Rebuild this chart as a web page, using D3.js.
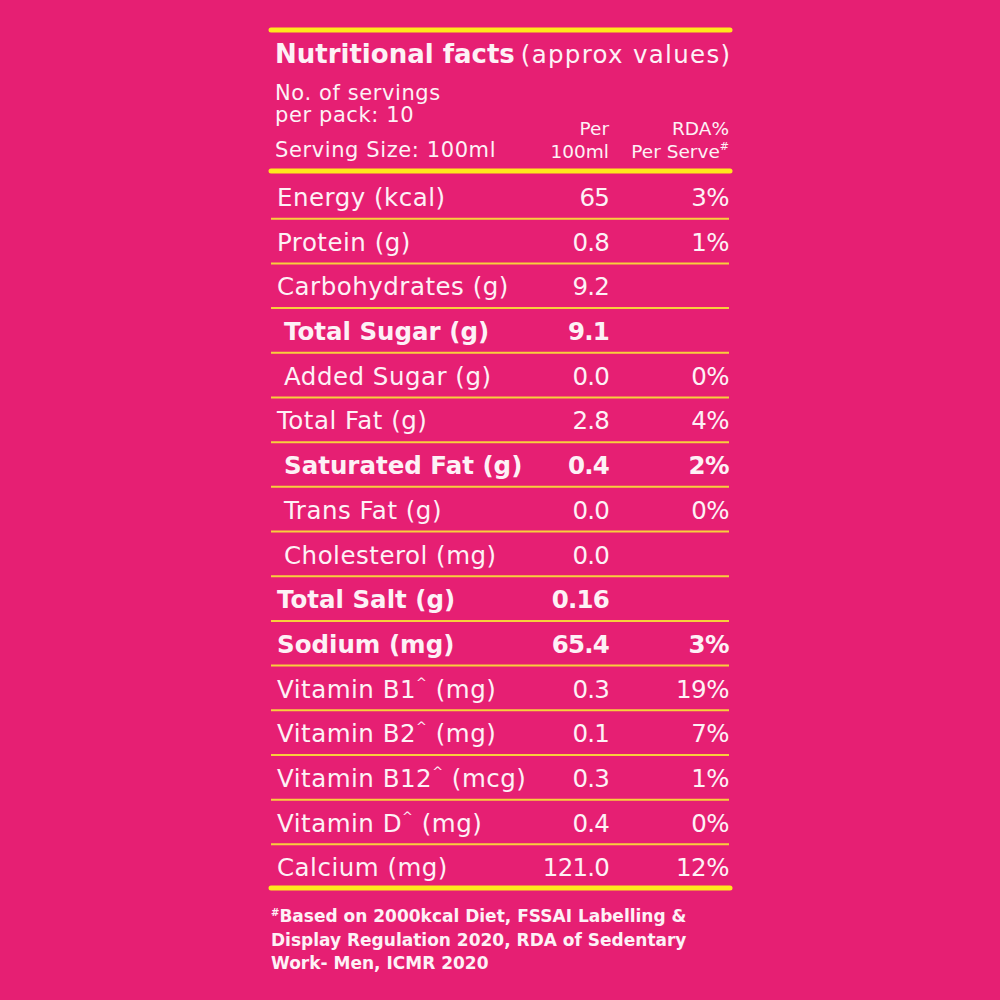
<!DOCTYPE html>
<html>
<head>
<meta charset="utf-8">
<script src="https://cdn.jsdelivr.net/npm/d3@7/dist/d3.min.js"></script>
<style>
  html, body { margin: 0; padding: 0; background: #e61f73; }
  svg { display: block; }
  text { fill: #fdf1f6; font-family: "DejaVu Sans", sans-serif; }
</style>
</head>
<body>
<div id="chart"></div>
<script>
// label data
const nutrients = [
  "Energy (kcal)", "Protein (g)", "Carbohydrates (g)", "Total Sugar (g)",
  "Added Sugar (g)", "Total Fat (g)", "Saturated Fat (g)", "Trans Fat (g)",
  "Cholesterol (mg)", "Total Salt (g)", "Sodium (mg)", "Vitamin B1^ (mg)",
  "Vitamin B2^ (mg)", "Vitamin B12^ (mcg)", "Vitamin D^ (mg)", "Calcium (mg)"
];
const per100ml = ["65", "0.8", "9.2", "9.1", "0.0", "2.8", "0.4", "0.0",
  "0.0", "0.16", "65.4", "0.3", "0.1", "0.3", "0.4", "121.0"];
const rdaPerServe = ["3%", "1%", "", "", "0%", "4%", "2%", "0%",
  "", "", "3%", "19%", "7%", "1%", "0%", "12%"];
const boldRows = ["Total Sugar (g)", "Saturated Fat (g)", "Total Salt (g)", "Sodium (mg)"];
const subRows = ["Total Sugar (g)", "Added Sugar (g)", "Saturated Fat (g)", "Trans Fat (g)", "Cholesterol (mg)"];

const titleMain = "Nutritional facts";
const titleSub = "(approx values)";
const servingLines = ["No. of servings", "per pack: 10", "Serving Size: 100ml"];
const colHead1 = ["Per", "100ml"];
const colHead2 = ["RDA%", "Per Serve"];
const footnote = [
  "Based on 2000kcal Diet, FSSAI Labelling &",
  "Display Regulation 2020, RDA of Sedentary",
  "Work- Men, ICMR 2020"
];

const W = 1000, H = 1000;
const left = 271, right = 729;
const yellow = "#ffe81c", thin = "#f8cf3c";

const svg = d3.select("#chart").append("svg")
  .attr("width", W).attr("height", H);

svg.append("rect").attr("width", W).attr("height", H).attr("fill", "#e61f73");

const y = d3.scaleBand().domain(nutrients).range([173, 888]);
const x = d3.scaleOrdinal()
  .domain(["label", "sub", "value", "rda"])
  .range([277, 284, 609, 729]);

// thick rules
[30, 171, 888].forEach(function(yy) {
  svg.append("line")
    .attr("x1", left).attr("x2", right + 1)
    .attr("y1", yy).attr("y2", yy)
    .attr("stroke", yellow).attr("stroke-width", 5)
    .attr("stroke-linecap", "round");
});

// thin rules between rows
svg.append("g").selectAll("line")
  .data(nutrients.slice(1))
  .enter().append("line")
  .attr("x1", left).attr("x2", right)
  .attr("y1", d => y(d) + 1).attr("y2", d => y(d) + 1)
  .attr("stroke", thin).attr("stroke-width", 2);

// title
const title = svg.append("text").attr("x", 275).attr("y", 63);
title.append("tspan").attr("font-weight", 700).attr("font-size", 26)
  .text(titleMain);
title.append("tspan").attr("font-size", 24.5).attr("dx", 6)
  .attr("letter-spacing", 1.3).text(titleSub);

// serving info
svg.append("g").selectAll("text")
  .data(servingLines)
  .enter().append("text")
  .attr("x", 275)
  .attr("y", (d, i) => [100, 122, 157][i])
  .attr("font-size", 21)
  .attr("letter-spacing", 0.6)
  .text(d => d);

// column heads
svg.append("g").selectAll("text")
  .data(colHead1)
  .enter().append("text")
  .attr("x", x("value")).attr("text-anchor", "end")
  .attr("y", (d, i) => 135 + i * 22.5)
  .attr("font-size", 18.5)
  .attr("letter-spacing", 0)
  .text(d => d);

const ch2 = svg.append("g").selectAll("text")
  .data(colHead2)
  .enter().append("text")
  .attr("x", x("rda")).attr("text-anchor", "end")
  .attr("y", (d, i) => 135 + i * 22.5)
  .attr("font-size", 18.5)
  .attr("letter-spacing", 0)
  .text(d => d);
ch2.filter((d, i) => i === 1).append("tspan")
  .attr("font-size", 11).attr("dy", -8).text("#");

// rows
const rows = svg.append("g").selectAll("g")
  .data(nutrients)
  .enter().append("g")
  .attr("font-weight", d => boldRows.includes(d) ? 700 : 400);

const lbl = rows.append("text")
  .attr("x", d => subRows.includes(d) ? x("sub") : x("label"))
  .attr("y", d => y(d) + 33)
  .attr("font-size", 24.5)
  .attr("letter-spacing", d => boldRows.includes(d) ? 0 : 0.5);
lbl.each(function(d) {
  const parts = d.split("^");
  const t = d3.select(this);
  t.append("tspan").text(parts[0]);
  if (parts.length > 1) {
    t.append("tspan").attr("font-size", 13).attr("dy", -11).text("^");
    t.append("tspan").attr("dy", 11).text(parts[1]);
  }
});

rows.append("text")
  .attr("x", x("value")).attr("text-anchor", "end")
  .attr("y", d => y(d) + 33)
  .attr("font-size", 24.5)
  .attr("letter-spacing", -0.8)
  .text((d, i) => per100ml[i]);

rows.append("text")
  .attr("x", x("rda")).attr("text-anchor", "end")
  .attr("y", d => y(d) + 33)
  .attr("font-size", 24.5)
  .attr("letter-spacing", -0.5)
  .text((d, i) => rdaPerServe[i]);

// footnote
const fn = svg.append("g").selectAll("text")
  .data(footnote)
  .enter().append("text")
  .attr("x", 271)
  .attr("y", (d, i) => 922 + i * 23.5)
  .attr("font-family", "'Open Sans', sans-serif")
  .attr("font-size", 17)
  .attr("font-weight", 600)
  .attr("letter-spacing", 0);
fn.filter((d, i) => i === 0).append("tspan")
  .attr("font-size", 10).attr("dy", -6).text("#");
fn.append("tspan")
  .attr("dy", (d, i) => i === 0 ? 6 : 0)
  .text(d => d);
</script>
</body>
</html>
